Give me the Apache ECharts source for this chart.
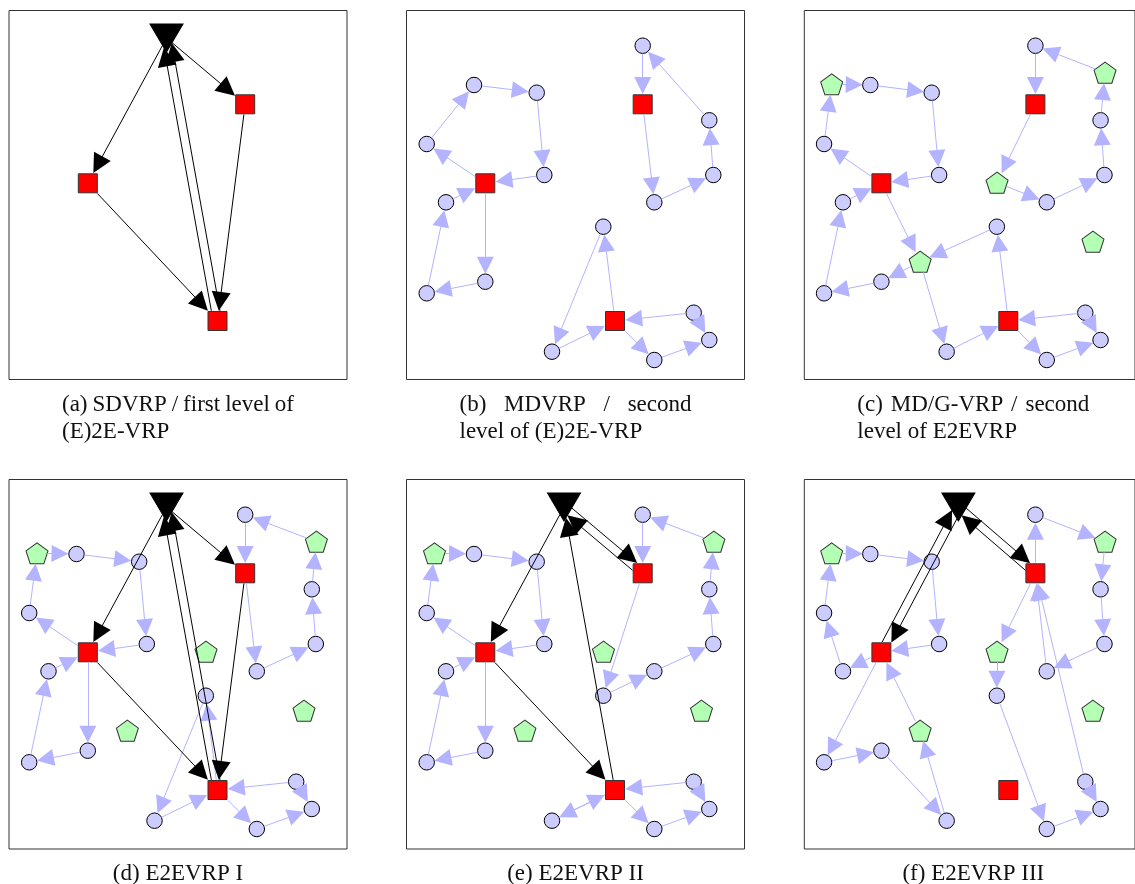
<!DOCTYPE html>
<html><head><meta charset="utf-8">
<script src="https://cdn.jsdelivr.net/npm/echarts@6/dist/echarts.min.js"></script>
<style>html,body{margin:0;padding:0;background:#fff}#c{width:1135px;height:884px}</style>
</head><body><div id="c"></div>
<script>
// ---------------- DATA (node locations inside a panel, edges per panel, captions) ----------------
const mainDepot = [['D', 157.5, 27.5]];
const satellites = [['S1', 78.8, 172.8], ['S2', 236.2, 93.8], ['S3', 208.5, 310.5]];
const customers = [
  ['C1', 67.5, 74.5], ['C2', 130.2, 82.2], ['C3', 20.2, 133.5], ['C4', 137.8, 164.5],
  ['C5', 39.5, 191.8], ['C6', 78.8, 271.2], ['C7', 20.2, 282.8], ['C8', 236.2, 35.2],
  ['C9', 302.8, 109.8], ['C10', 306.8, 164.5], ['C11', 247.8, 191.8], ['C12', 196.8, 216.2],
  ['C13', 287.2, 302.2], ['C14', 302.8, 329.5], ['C15', 247.8, 349.5], ['C16', 145.5, 341.2]
];
const stations = [['P1', 28, 73.8], ['P2', 307.4, 62.2], ['P3', 197, 172.2], ['P4', 295, 231.2], ['P5', 118.4, 251.2]];

const firstLevelA = ['D>S1', 'S1>S3', 'S3>D', 'D>S2', 'S2>S3', 'S3>D'];
const firstLevelE = ['D>S1', 'S1>S3', 'S3>D', 'D>S2', 'S2>D'];
const firstLevelF = ['D>S1', 'S1>D', 'D>S2', 'S2>D'];

const secondLevelB = ['S1>C3', 'C3>C1', 'C1>C2', 'C2>C4', 'C4>S1', 'S1>C6', 'C6>C7', 'C7>C5', 'C5>S1',
  'S2>C11', 'C11>C10', 'C10>C9', 'C9>C8', 'C8>S2',
  'S3>C12', 'C12>C16', 'C16>S3', 'S3>C15', 'C15>C14', 'C13>C14', 'C13>S3'];
const secondLevelC = ['S1>C3', 'C3>P1', 'P1>C1', 'C1>C2', 'C2>C4', 'C4>S1', 'S1>P5', 'P5>C6', 'C6>C7', 'C7>C5', 'C5>S1',
  'S2>P3', 'P3>C11', 'C11>C10', 'C10>C9', 'C9>P2', 'P2>C8', 'C8>S2',
  'S3>C12', 'C12>P5', 'P5>C16', 'C16>S3', 'S3>C15', 'C15>C14', 'C13>C14', 'C13>S3'];
const secondLevelD = ['S1>C3', 'C3>P1', 'P1>C1', 'C1>C2', 'C2>C4', 'C4>S1', 'S1>C6', 'C6>C7', 'C7>C5', 'C5>S1',
  'S2>C11', 'C11>C10', 'C10>C9', 'C9>P2', 'P2>C8', 'C8>S2',
  'S3>C12', 'C12>C16', 'C16>S3', 'S3>C15', 'C15>C14', 'C13>C14', 'C13>S3'];
const secondLevelE = ['S1>C3', 'C3>P1', 'P1>C1', 'C1>C2', 'C2>C4', 'C4>S1', 'S1>C6', 'C6>C7', 'C7>C5', 'C5>S1',
  'S2>C12', 'C12>C11', 'C11>C10', 'C10>C9', 'C9>P2', 'P2>C8', 'C8>S2',
  'S3>C16', 'C16>S3', 'S3>C15', 'C15>C14', 'C13>C14', 'C13>S3'];
const secondLevelF = ['S1>C5', 'C5>C3', 'C3>P1', 'P1>C1', 'C1>C2', 'C2>C4', 'C4>S1',
  'S1>C7', 'C7>C6', 'C6>C16', 'C16>P5', 'P5>S1',
  'S2>C8', 'C8>P2', 'P2>C9', 'C9>C10', 'C10>C11', 'C11>S2',
  'S2>P3', 'P3>C12', 'C12>C15', 'C15>C14', 'C13>C14', 'C13>S2'];

const captionA = ['(a) SDVRP / first level of', '(E)2E-VRP'];
const captionB = ['(b) MDVRP / second', 'level of (E)2E-VRP'];
const captionC = ['(c) MD/G-VRP / second', 'level of E2EVRP'];
const captionD = ['(d) E2EVRP I'];
const captionE = ['(e) E2EVRP II'];
const captionF = ['(f) E2EVRP III'];

// ---------------- LAYOUT / STYLE ----------------
const BOX_W = 338;
const PENTA = 'path://M10,0 L19.51,6.91 L15.88,18.09 L4.12,18.09 L0.49,6.91 Z';
const styles = {
  main: { symbol: 'triangle', size: [33, 28], rotate: 180, fill: '#000', stroke: '#000' },
  sat: { symbol: 'rect', size: 19, fill: '#ff0000', stroke: '#333' },
  cust: { symbol: 'circle', size: 15.5, fill: '#ccccff', stroke: '#000' },
  stat: { symbol: PENTA, size: [22, 21], fill: '#b3ffb3', stroke: '#333' }
};
const groups = { main: mainDepot, sat: satellites, cust: customers, stat: stations };
const nodes = {};
let order = 0;
Object.keys(groups).forEach(t => groups[t].forEach(r => { nodes[r[0]] = { name: r[0], x: r[1], y: r[2], type: t, idx: order++ }; }));

const panels = [
  { left: 9, top: 10.5, h: 369, types: ['main', 'sat'], black: firstLevelA, blue: [], cap: captionA, justify: true },
  { left: 406.5, top: 10.5, h: 369, types: ['sat', 'cust'], black: [], blue: secondLevelB, cap: captionB, justify: true },
  { left: 804.3, top: 10.5, h: 369, types: ['sat', 'cust', 'stat'], black: [], blue: secondLevelC, cap: captionC, justify: true },
  { left: 9, top: 479.5, h: 369.5, types: ['main', 'sat', 'cust', 'stat'], black: firstLevelA, blue: secondLevelD, cap: captionD },
  { left: 406.5, top: 479.5, h: 369.5, types: ['main', 'sat', 'cust', 'stat'], black: firstLevelE, blue: secondLevelE, cap: captionE },
  { left: 804.3, top: 479.5, h: 369.5, types: ['main', 'sat', 'cust', 'stat'], black: firstLevelF, blue: secondLevelF, cap: captionF }
];

function inside(n, px, py) {
  const dx = px - n.x, dy = py - n.y;
  if (n.type === 'cust') return dx * dx + dy * dy < 64;
  if (n.type === 'stat') return dx * dx + dy * dy < 110;
  if (n.type === 'sat') return Math.abs(dx) < 10.2 && Math.abs(dy) < 10.2;
  const hw = 16.5, hh = 14;
  if (dy < -hh || dy > hh) return false;
  return Math.abs(dx) <= hw * (hh - dy) / (2 * hh);
}
function entry(n, x0, y0, x1, y1) {
  if (!inside(n, x1, y1)) return [x1, y1];
  let lo = 0, hi = 1;
  for (let i = 0; i < 40; i++) {
    const m = (lo + hi) / 2;
    if (inside(n, x0 + (x1 - x0) * m, y0 + (y1 - y0) * m)) hi = m; else lo = m;
  }
  return [x0 + (x1 - x0) * lo, y0 + (y1 - y0) * lo];
}
function edgeCoords(a, b, off, back) {
  const c1 = a.idx < b.idx ? a : b, c2 = a.idx < b.idx ? b : a;
  const cl = Math.hypot(c2.x - c1.x, c2.y - c1.y);
  const px = -(c2.y - c1.y) / cl * off, py = (c2.x - c1.x) / cl * off;
  const ax = a.x + px, ay = a.y + py, bx = b.x + px, by = b.y + py;
  const L = Math.hypot(bx - ax, by - ay), ux = (bx - ax) / L, uy = (by - ay) / L;
  const e = entry(b, ax, ay, bx, by);
  const s = entry(a, bx, by, ax, ay);
  return [s, [e[0] - ux * back, e[1] - uy * back]];
}
function buildEdges(list, spacing, back) {
  const cnt = {}, seen = {};
  const keyOf = (a, b) => [a, b].sort().join('|');
  list.forEach(s => { const [a, b] = s.split('>'); const k = keyOf(a, b); cnt[k] = (cnt[k] || 0) + 1; });
  return list.map(s => {
    const [a, b] = s.split('>'); const k = keyOf(a, b);
    const i = seen[k] = (seen[k] === undefined ? 0 : seen[k] + 1);
    const off = spacing ? (i - (cnt[k] - 1) / 2) * spacing : 0;
    return { coords: edgeCoords(nodes[a], nodes[b], off, back) };
  });
}

const BLUE = '#b3b3ff';
const BLUE_ARROW = 17, BLACK_ARROW = 19;
const series = [];
panels.forEach((p, gi) => {
  p.types.forEach(t => {
    const st = styles[t];
    series.push({
      type: 'scatter', xAxisIndex: gi, yAxisIndex: gi, z: 2, silent: true,
      symbol: st.symbol, symbolSize: st.size, symbolRotate: st.rotate || 0,
      itemStyle: { color: st.fill, borderColor: st.stroke, borderWidth: 1, opacity: 1 },
      data: groups[t].map(r => [r[1], r[2]])
    });
  });
  if (p.blue.length) series.push({
    type: 'lines', coordinateSystem: 'cartesian2d', xAxisIndex: gi, yAxisIndex: gi, z: 3, silent: true,
    symbol: ['none', 'triangle'], symbolSize: BLUE_ARROW,
    lineStyle: { color: BLUE, width: 1, opacity: 1, curveness: 0 },
    data: buildEdges(p.blue, 0, BLUE_ARROW * 0.5)
  });
  if (p.black.length) series.push({
    type: 'lines', coordinateSystem: 'cartesian2d', xAxisIndex: gi, yAxisIndex: gi, z: 4, silent: true,
    symbol: ['none', 'triangle'], symbolSize: BLACK_ARROW,
    lineStyle: { color: '#000', width: 1, opacity: 1, curveness: 0 },
    data: buildEdges(p.black, 8.5, BLACK_ARROW * 0.5)
  });
});

// captions
const FONT_SIZE = 23, FONT_FAM = '"Liberation Serif", "Times New Roman", serif';
const mctx = document.createElement('canvas').getContext('2d');
mctx.font = FONT_SIZE + 'px ' + FONT_FAM;
const CAP_W = 232, LINE1_Y = 405, LINE2_Y = 432, BOTTOM_CAP_Y = 874;
const graphics = [];
function txt(s, x, y, align) {
  graphics.push({ type: 'text', x: x, y: y, silent: true,
    style: { text: s, fill: '#111', font: FONT_SIZE + 'px ' + FONT_FAM, align: align, verticalAlign: 'middle' } });
}
panels.forEach(p => {
  const cx = p.left + BOX_W / 2;
  if (p.justify) {
    const x0 = cx - CAP_W / 2;
    const words = p.cap[0].split(' ');
    const ws = words.map(w => mctx.measureText(w).width);
    const tot = ws.reduce((a, b) => a + b, 0);
    const gap = (CAP_W - tot) / (words.length - 1);
    let x = x0;
    words.forEach((w, i) => { txt(w, x, LINE1_Y, 'left'); x += ws[i] + gap; });
    txt(p.cap[1], x0, LINE2_Y, 'left');
  } else {
    txt(p.cap[0], cx, BOTTOM_CAP_Y, 'center');
  }
});

const chart = echarts.init(document.getElementById('c'), null, { renderer: 'canvas' });
chart.setOption({
  animation: false,
  backgroundColor: '#fff',
  grid: panels.map(p => ({ left: p.left, top: p.top, width: BOX_W, height: p.h, show: true,
    borderColor: '#333', borderWidth: 1, backgroundColor: 'transparent', containLabel: false })),
  xAxis: panels.map((p, i) => ({ gridIndex: i, type: 'value', min: 0, max: BOX_W, show: false })),
  yAxis: panels.map((p, i) => ({ gridIndex: i, type: 'value', min: 0, max: p.h, inverse: true, show: false })),
  series: series,
  graphic: graphics
});
</script></body></html>
